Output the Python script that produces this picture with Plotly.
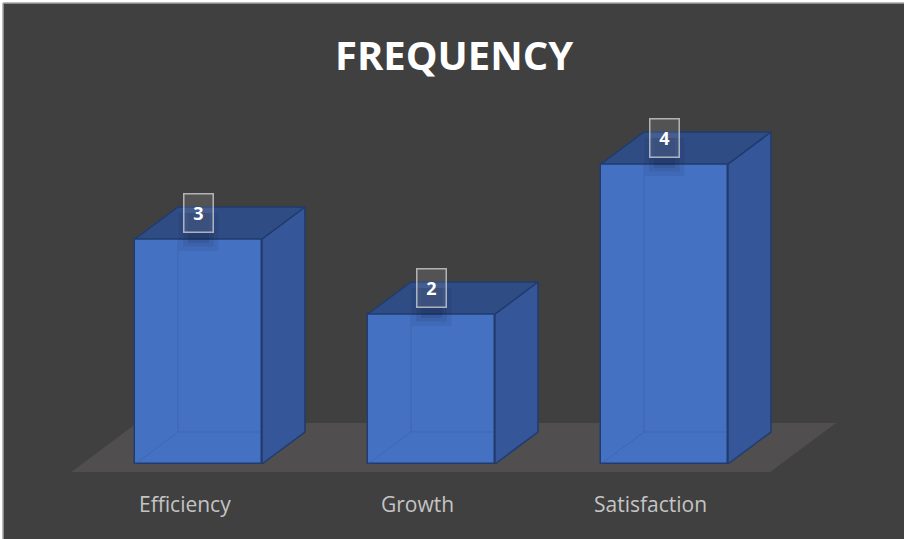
import plotly.graph_objects as go

# Chart data
categories = ["Efficiency", "Growth", "Satisfaction"]
frequency = [3, 2, 4]
title_text = "FREQUENCY"

# Styling / projection constants
BAR_W = 0.545          # bar width in category units
DX, DY = 0.1845, 0.4267  # oblique offset of one bar depth (x units, y units)
FLOOR_T0, FLOOR_T1 = -0.25, 1.28  # floor depth span, in bar-depth units
LABEL_LIFT = 0.347     # value label height above the bar's front top edge
FRONT = "#4471c2"
SIDE = "#36569a"
TOP = "#2f4c84"
EDGE = "#203c6e"
FLOOR = "#504e4e"
BG = "#404040"


def proj(x, y, t):
    """Oblique projection of a point at depth t (0 = bar front face)."""
    return x + t * DX, y + t * DY


def poly(points, **kw):
    pts = list(points) + [points[0]]
    return go.Scatter(x=[p[0] for p in pts], y=[p[1] for p in pts],
                      mode="lines", fill="toself", hoverinfo="skip",
                      showlegend=False, **kw)


xs = list(range(len(categories)))
fig = go.Figure()

# Front faces as regular bars
fig.add_trace(go.Bar(
    x=xs, y=frequency, width=BAR_W,
    marker=dict(color=FRONT, line=dict(color=EDGE, width=1.5)),
    hoverinfo="skip", showlegend=False,
))

for i, v in zip(xs, frequency):
    l, r = i - BAR_W / 2, i + BAR_W / 2
    # hidden back edges seen faintly through the front face
    p0 = proj(l, 0, 0)
    p1 = proj(l, 0, 1)
    p2 = proj(r, 0, 1)
    p3 = proj(l, v, 1)
    fig.add_trace(go.Scatter(
        x=[p0[0], p1[0], p2[0], None, p1[0], p3[0]],
        y=[p0[1], p1[1], p2[1], None, p1[1], p3[1]],
        mode="lines", line=dict(color="rgba(50,85,150,0.35)", width=1),
        hoverinfo="skip", showlegend=False,
    ))
    # right side face
    fig.add_trace(poly([proj(r, 0, 0), proj(r, 0, 1), proj(r, v, 1), proj(r, v, 0)],
                       fillcolor=SIDE, line=dict(color=EDGE, width=1.5)))
    # top face
    fig.add_trace(poly([proj(l, v, 0), proj(r, v, 0), proj(r, v, 1), proj(l, v, 1)],
                       fillcolor=TOP, line=dict(color=EDGE, width=1.5)))
    # soft shadow cast by the value label
    ly = v + LABEL_LIFT
    for w, lo, a in [(0.085, 0.16, 0.07), (0.065, 0.1, 0.09), (0.045, 0.05, 0.1)]:
        fig.add_trace(poly([(i - w, v - lo), (i + w, v - lo), (i + w, ly), (i - w, ly)],
                           fillcolor=f"rgba(10,20,45,{a})", line=dict(width=0)))
    # value label box
    fig.add_annotation(
        x=i, y=ly, text=f"<b>{v}</b>", showarrow=False,
        font=dict(family="Open Sans", size=18, color="white"),
        width=28, height=37, borderpad=0,
        bgcolor="rgba(255,255,255,0.1)",
        bordercolor="rgba(215,215,215,0.75)", borderwidth=1.5,
    )
    # category label under the floor
    fig.add_annotation(
        x=i - 0.06, y=-0.533, text=categories[i], showarrow=False,
        font=dict(family="Open Sans", size=21, color="#c4c4c4"),
    )

# Floor plane under the bars
n = len(categories)
floor = [proj(-0.5, 0, FLOOR_T0), proj(n - 0.5, 0, FLOOR_T0),
         proj(n - 0.5, 0, FLOOR_T1), proj(-0.5, 0, FLOOR_T1)]
path = "M " + " L ".join(f"{px},{py}" for px, py in floor) + " Z"
fig.add_shape(type="path", path=path, xref="x", yref="y",
              fillcolor=FLOOR, line=dict(width=0), layer="below")

# Chart frame: thin light edge along the top and left, white outside it
fig.add_shape(type="rect", xref="paper", yref="paper", x0=-0.01, x1=1.01,
              y0=1, y1=1.01, fillcolor="white", line=dict(width=0))
fig.add_shape(type="rect", xref="paper", yref="paper", x0=-0.01, x1=0,
              y0=-0.01, y1=1.01, fillcolor="white", line=dict(width=0))
fig.add_shape(type="line", xref="paper", yref="paper", x0=0, x1=1.01,
              y0=1, y1=1, line=dict(color="#a6a6a6", width=1.5))
fig.add_shape(type="line", xref="paper", yref="paper", x0=0, x1=0,
              y0=-0.01, y1=1, line=dict(color="#a6a6a6", width=1.5))

fig.add_annotation(
    x=0.5, y=0.903, xref="paper", yref="paper", text=f"<b>{title_text}</b>",
    xanchor="center", yanchor="middle", showarrow=False,
    font=dict(family="Open Sans", size=40, color="white"),
)

fig.update_layout(
    width=904, height=539,
    margin=dict(l=3, r=0, t=3, b=0),
    paper_bgcolor=BG, plot_bgcolor=BG,
    xaxis=dict(range=[-0.839, 3.028], visible=False, fixedrange=True),
    yaxis=dict(range=[-1.0, 6.147], visible=False, fixedrange=True),
    bargap=0,
)

fig.write_html("out.html", config={"displayModeBar": False})
